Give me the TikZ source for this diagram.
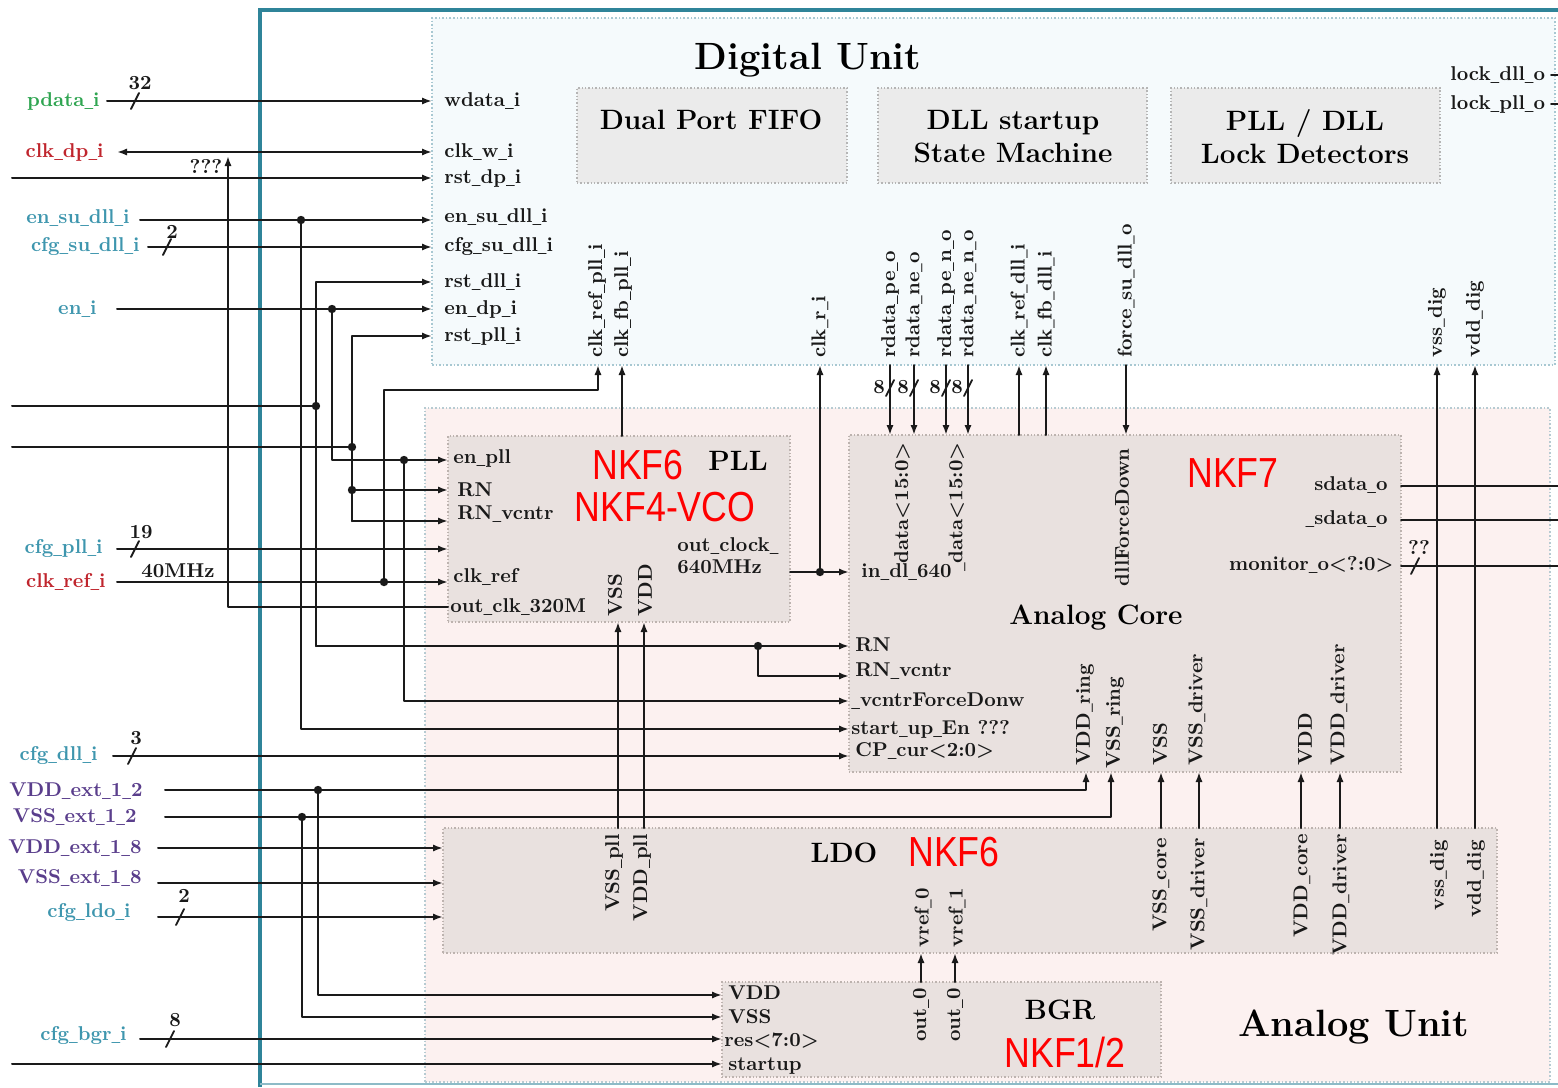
\documentclass[tikz,border=0pt]{standalone}
\usepackage{fontspec}
\usepackage{graphicx}
\newfontfamily\nkffont[FakeStretch=0.85]{Liberation Sans}
\usetikzlibrary{arrows.meta,fit}
\definecolor{framec}{HTML}{2F8499}
\definecolor{dufill}{HTML}{F5FAFC}
\definecolor{duline}{HTML}{A8C8D2}
\definecolor{aufill}{HTML}{FCF1F0}
\definecolor{auline}{HTML}{B7CBD2}
\definecolor{subfill}{HTML}{EBEBEB}
\definecolor{subline}{HTML}{B5B5B5}
\definecolor{blkfill}{HTML}{E9E1DF}
\definecolor{blkline}{HTML}{BDB3AF}
\definecolor{wirec}{HTML}{1A1A1A}
\definecolor{cgreen}{HTML}{2FA551}
\definecolor{cred}{HTML}{C0252D}
\definecolor{cteal}{HTML}{3E96AE}
\definecolor{cpurple}{HTML}{5A3E8C}
\definecolor{nkf}{HTML}{FF0000}
\newcommand\us{\scalebox{0.5}[1]{\_}}
\newcommand\busmark[2]{\draw[wire,line width=0.9pt] (#1-4,#2+8) -- (#1+4,#2-8);}
\tikzset{
  wire/.style={draw=wirec, line width=1pt, line cap=round, line join=round},
  arr/.style={wire, -{Latex[length=5pt,width=3.6pt]}},
  barr/.style={wire, {Latex[length=5pt,width=3.6pt]}-{Latex[length=5pt,width=3.6pt]}},
  jdot/.style={circle, fill=wirec, inner sep=0pt, minimum size=4.2pt},
  lab/.style={font=\bfseries\fontsize{10}{12}\selectfont, inner sep=0pt, text=black!90},
  lw/.style={lab, anchor=base west},
  le/.style={lab, anchor=base east},
  rup/.style={lab, rotate=90, anchor=west},
  rdown/.style={lab, rotate=90, anchor=east},
  bigtitle/.style={font=\bfseries\fontsize{19}{22}\selectfont, inner sep=0pt},
  blktitle/.style={font=\bfseries\fontsize{14}{16.5}\selectfont, inner sep=0pt, align=center},
  nkflab/.style={font=\nkffont\fontsize{21}{24}\selectfont, text=nkf, inner sep=0pt},
  unitdu/.style={draw=duline, fill=dufill, densely dotted, line width=0.8pt, inner sep=0pt},
  unitau/.style={draw=auline, fill=aufill, densely dotted, line width=0.8pt, inner sep=0pt},
  subblk/.style={draw=subline, fill=subfill, densely dotted, line width=0.7pt, inner sep=0pt},
  anablk/.style={draw=blkline, fill=blkfill, densely dotted, line width=0.7pt, inner sep=0pt},
}
\begin{document}
\begin{tikzpicture}[x=0.5pt,y=-0.5pt]
\useasboundingbox (0,0) rectangle (1558,1087);
\fill[white] (0,0) rectangle (1558,1087);

% ---------- units and blocks ----------
\node[unitdu, fit={(432,18)(1555,365)}] (DU) {};
\node[unitau, fit={(425,408)(1550,1082)}] (AU) {};
\node[subblk, fit={(577,88)(847,183)}] (FIFO) {};
\node[subblk, fit={(878,88)(1147,183)}] (DLLSM) {};
\node[subblk, fit={(1171,88)(1440,183)}] (LOCK) {};
\node[anablk, fit={(448,436)(790,622)}] (PLL) {};
\node[anablk, fit={(849,435)(1401,772)}] (CORE) {};
\node[anablk, fit={(443,828)(1497,953)}] (LDO) {};
\node[anablk, fit={(722,982)(1161,1077)}] (BGR) {};

% ---------- frame ----------
\draw[framec, line width=2.2pt] (260,1087) -- (260,10) -- (1558,10);
\draw[framec!55, line width=1.2pt] (260,1084) -- (1558,1084);

% ---------- titles ----------
\node[bigtitle] (tdu) at (808,60) {Digital Unit};
\node[bigtitle] (tau) at (1354,1027) {Analog Unit};
\node[blktitle] (tfifo) at (711,120) {Dual Port FIFO};
\node[blktitle] (tsm) at (1013,137) {DLL startup\\State Machine};
\node[blktitle] (tlock) at (1305,137) {PLL / DLL\\Lock Detectors};
\node[blktitle] (tpll) at (738,461) {PLL};
\node[blktitle] (tcore) at (1096,618) {Analog Core};
\node[blktitle] (tldo) at (844,853) {LDO};
\node[blktitle] (tbgr) at (1060,1010) {BGR};
\node[nkflab] (n1) at (638,465) {NKF6};
\node[nkflab] (n2) at (665,507) {NKF4-VCO};
\node[nkflab] (n3) at (1233,473) {NKF7};
\node[nkflab] (n4) at (954,852) {NKF6};
\node[nkflab] (n5) at (1065,1052) {NKF1/2};

% ---------- wires ----------
\draw[arr] (107,101) -- (432,101);
\draw[barr] (117,152) -- (432,152);
\draw[arr] (12,178) -- (432,178);
\draw[arr] (140,220) -- (432,220);
\draw[arr] (148,247) -- (432,247);
\draw[arr] (117,309) -- (432,309);
\draw[arr] (301,220) -- (301,729) -- (849,729);
\draw[wire] (12,406) -- (316,406);
\draw[arr] (316,646) -- (316,282) -- (432,282);
\draw[arr] (316,646) -- (849,646);
\draw[arr] (758,646) -- (758,676) -- (849,676);
\draw[arr] (332,309) -- (332,460) -- (448,460);
\draw[arr] (404,460) -- (404,701) -- (849,701);
\draw[wire] (12,447) -- (352,447);
\draw[arr] (352,521) -- (352,336) -- (432,336);
\draw[arr] (352,521) -- (448,521);
\draw[arr] (352,490) -- (448,490);
\draw[arr] (117,549) -- (448,549);
\draw[arr] (117,582) -- (448,582);
\draw[arr] (384,582) -- (384,390) -- (598,390) -- (598,365);
\draw[arr] (448,607) -- (228,607) -- (228,156);
\draw[arr] (790,572) -- (849,572);
\draw[arr] (820,572) -- (820,365);
\draw[arr] (622,436) -- (622,365);
\foreach \xx in {890,914,946,968} {
  \draw[arr] (\xx,365) -- (\xx,435);
  \busmark{\xx}{388}
  \node[lab] at (\xx-11,387) {8};
}
\draw[arr] (1019,435) -- (1019,365);
\draw[arr] (1046,435) -- (1046,365);
\draw[arr] (1126,365) -- (1126,435);
\draw[arr] (1437,828) -- (1437,365);
\draw[arr] (1475,828) -- (1475,365);
\draw[wire] (1401,486) -- (1558,486);
\draw[wire] (1401,520) -- (1558,520);
\draw[wire] (1401,566) -- (1558,566);
\draw[arr] (113,756) -- (849,756);
\draw[arr] (165,790) -- (1086,790) -- (1086,772);
\draw[arr] (318,790) -- (318,995) -- (722,995);
\draw[arr] (165,817) -- (1111,817) -- (1111,772);
\draw[arr] (302,817) -- (302,1017) -- (722,1017);
\draw[arr] (158,848) -- (443,848);
\draw[arr] (158,883) -- (443,883);
\draw[arr] (158,917) -- (443,917);
\draw[arr] (140,1039) -- (722,1039);
\draw[arr] (12,1064) -- (722,1064);
\draw[arr] (618,828) -- (618,622);
\draw[arr] (644,828) -- (644,622);
\draw[arr] (1161,828) -- (1161,772);
\draw[arr] (1199,828) -- (1199,772);
\draw[arr] (1301,828) -- (1301,772);
\draw[arr] (1340,828) -- (1340,772);
\draw[arr] (921,982) -- (921,953);
\draw[arr] (955,982) -- (955,953);
\draw[wire] (1551,75) -- (1558,75);
\draw[wire] (1551,104) -- (1558,104);

% junction dots
\foreach \p in {(301,220),(316,406),(758,646),(332,309),(404,460),(352,447),(352,490),(384,582),(820,572),(318,790),(302,817)}
  \node[jdot] at \p {};

% bus marks
\busmark{135}{101} \node[lab] at (140,83) {32};
\busmark{167}{247} \node[lab] at (172,232) {2};
\busmark{135}{549} \node[lab] at (141,532) {19};
\busmark{132}{756} \node[lab] at (136,738) {3};
\busmark{180}{917} \node[lab] at (184,896) {2};
\busmark{170}{1039} \node[lab] at (175,1020) {8};
\busmark{1415}{566} \node[lab] at (1419,547) {??};
\node[lab] at (178,571) {40MHz};
\node[lab] at (206,166) {???};

% ---------- external labels ----------
\node[le, text=cgreen] at (100,106) {pdata\us i};
\node[le, text=cred] at (104,157) {clk\us dp\us i};
\node[le, text=cteal] at (130,223) {en\us su\us dll\us i};
\node[le, text=cteal] at (140,251) {cfg\us su\us dll\us i};
\node[le, text=cteal] at (97,314) {en\us i};
\node[le, text=cteal] at (103,553) {cfg\us pll\us i};
\node[le, text=cred] at (106,587) {clk\us ref\us i};
\node[le, text=cteal] at (98,760) {cfg\us dll\us i};
\node[le, text=cpurple] at (143,796) {VDD\us ext\us 1\us 2};
\node[le, text=cpurple] at (137,822) {VSS\us ext\us 1\us 2};
\node[le, text=cpurple] at (142,853) {VDD\us ext\us 1\us 8};
\node[le, text=cpurple] at (142,883) {VSS\us ext\us 1\us 8};
\node[le, text=cteal] at (131,917) {cfg\us ldo\us i};
\node[le, text=cteal] at (127,1040) {cfg\us bgr\us i};

% ---------- digital unit pins ----------
\node[lw] at (444,106) {wdata\us i};
\node[lw] at (444,157) {clk\us w\us i};
\node[lw] at (444,183) {rst\us dp\us i};
\node[lw] at (444,222) {en\us su\us dll\us i};
\node[lw] at (444,251) {cfg\us su\us dll\us i};
\node[lw] at (444,287) {rst\us dll\us i};
\node[lw] at (444,314) {en\us dp\us i};
\node[lw] at (444,341) {rst\us pll\us i};
\node[lw] at (1450,80) {lock\us dll\us o};
\node[lw] at (1450,109) {lock\us pll\us o};
\node[rup] at (597,358) {clk\us ref\us pll\us i};
\node[rup] at (623,358) {clk\us fb\us pll\us i};
\node[rup] at (820,358) {clk\us r\us i};
\node[rup] at (890,358) {rdata\us pe\us o};
\node[rup] at (914,358) {rdata\us ne\us o};
\node[rup] at (946,358) {rdata\us pe\us n\us o};
\node[rup] at (968,358) {rdata\us ne\us n\us o};
\node[rup] at (1019,358) {clk\us ref\us dll\us i};
\node[rup] at (1046,358) {clk\us fb\us dll\us i};
\node[rup] at (1126,358) {force\us su\us dll\us o};
\node[rup] at (1437,358) {vss\us dig};
\node[rup] at (1475,358) {vdd\us dig};

% ---------- PLL pins ----------
\node[lw] at (453,463) {en\us pll};
\node[lw] at (457,496) {RN};
\node[lw] at (457,519) {RN\us vcntr};
\node[lw] at (453,582) {clk\us ref};
\node[lw] at (450,612) {out\us clk\us 320M};
\node[lw] at (677,551) {out\us clock\us};
\node[lw] at (677,573) {640MHz};
\node[rup] at (615,617) {VSS};
\node[rup] at (645,617) {VDD};

% ---------- Analog core pins ----------
\node[rdown] at (902,442) {data<15:0>};
\node[rdown] at (957,442) {\us data<15:0>};
\node[rdown] at (1122,448) {dllForceDown};
\node[lw] at (861,577) {in\us dl\us 640};
\node[le] at (1388,490) {sdata\us o};
\node[le] at (1388,524) {\us sdata\us o};
\node[le] at (1394,570) {monitor\us o<?:0>};
\node[lw] at (855,651) {RN};
\node[lw] at (855,676) {RN\us vcntr};
\node[lw] at (851,706) {\us vcntrForceDonw};
\node[lw] at (851,734) {start\us up\us En ???};
\node[lw] at (855,756) {CP\us cur<2:0>};
\node[rup] at (1085,766) {VDD\us ring};
\node[rup] at (1115,769) {VSS\us ring};
\node[rup] at (1160,766) {VSS};
\node[rup] at (1197,766) {VSS\us driver};
\node[rup] at (1305,766) {VDD};
\node[rup] at (1339,766) {VDD\us driver};

% ---------- LDO pins ----------
\node[rdown] at (614,834) {VSS\us pll};
\node[rdown] at (642,834) {VDD\us pll};
\node[rdown] at (1161,838) {VSS\us core};
\node[rdown] at (1199,838) {VSS\us driver};
\node[rdown] at (1302,834) {VDD\us core};
\node[rdown] at (1341,834) {VDD\us driver};
\node[rdown] at (1439,840) {vss\us dig};
\node[rdown] at (1476,840) {vdd\us dig};
\node[rup] at (923,948) {vref\us 0};
\node[rup] at (957,948) {vref\us 1};

% ---------- BGR pins ----------
\node[lw] at (728,999) {VDD};
\node[lw] at (728,1023) {VSS};
\node[lw] at (724,1046) {res<7:0>};
\node[lw] at (728,1070) {startup};
\node[rdown] at (921,988) {out\us 0};
\node[rdown] at (955,988) {out\us 0};
\end{tikzpicture}
\end{document}
